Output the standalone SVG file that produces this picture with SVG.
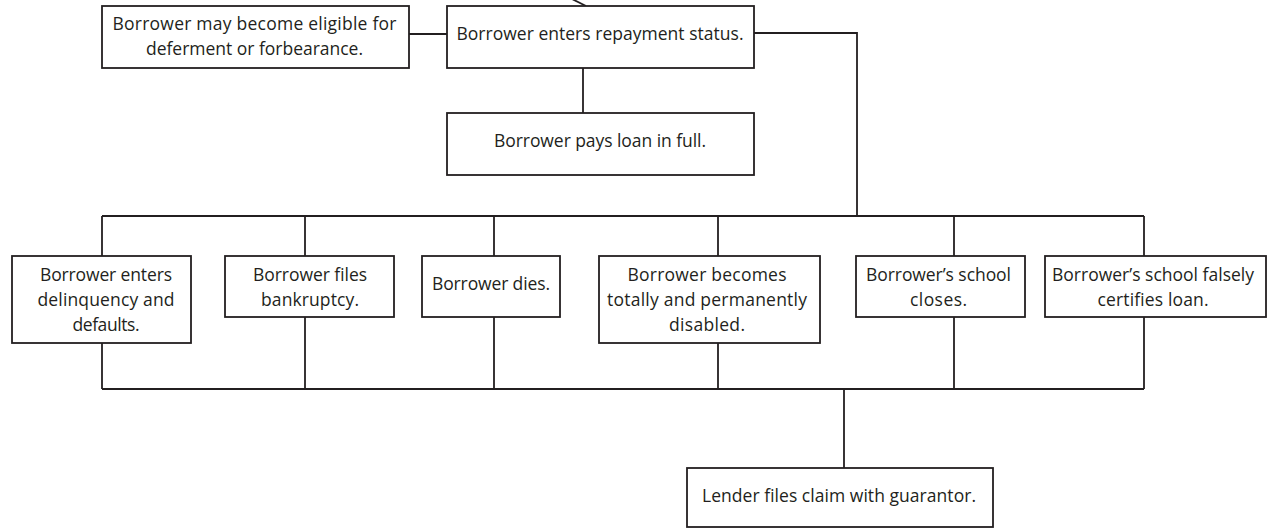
<svg xmlns="http://www.w3.org/2000/svg" width="1275" height="529" viewBox="0 0 1275 529">
<style>
.box{fill:#fff;stroke:#231f20;stroke-width:1.8}
.c{fill:none;stroke:#231f20;stroke-width:1.8}
text{font-family:"Open Sans","Noto Sans","Liberation Sans",sans-serif;font-size:17.5px;fill:#231f20;text-anchor:middle}
</style>
<rect width="1275" height="529" fill="#fff"/>
<g id="connectors">
<line class="c" x1="572" y1="-1" x2="586" y2="6"/>
<line class="c" x1="409" y1="34" x2="447" y2="34"/>
<polyline class="c" points="754,33 857,33 857,216"/>
<line class="c" x1="583" y1="68" x2="583" y2="113"/>
<line class="c" x1="102" y1="216" x2="1144" y2="216"/>
<line class="c" x1="102" y1="216" x2="102" y2="256"/>
<line class="c" x1="305" y1="216" x2="305" y2="256"/>
<line class="c" x1="494" y1="216" x2="494" y2="256"/>
<line class="c" x1="718" y1="216" x2="718" y2="256"/>
<line class="c" x1="954" y1="216" x2="954" y2="256"/>
<line class="c" x1="1144" y1="216" x2="1144" y2="256"/>
<line class="c" x1="102" y1="343" x2="102" y2="389"/>
<line class="c" x1="305" y1="317" x2="305" y2="389"/>
<line class="c" x1="494" y1="317" x2="494" y2="389"/>
<line class="c" x1="718" y1="343" x2="718" y2="389"/>
<line class="c" x1="954" y1="317" x2="954" y2="389"/>
<line class="c" x1="1144" y1="317" x2="1144" y2="389"/>
<line class="c" x1="102" y1="389" x2="1144" y2="389"/>
<line class="c" x1="844" y1="389" x2="844" y2="468"/>
</g>
<g id="deferment">
<rect class="box" x="102" y="6" width="307" height="62"/>
<text x="254.5" y="30" textLength="284" lengthAdjust="spacing">Borrower may become eligible for</text>
<text x="254.5" y="55" textLength="217" lengthAdjust="spacing">deferment or forbearance.</text>
</g>
<g id="repayment">
<rect class="box" x="447" y="6" width="307" height="62"/>
<text x="600" y="40" textLength="287" lengthAdjust="spacing">Borrower enters repayment status.</text>
</g>
<g id="paysfull">
<rect class="box" x="447" y="113" width="307" height="62"/>
<text x="600" y="147" textLength="212" lengthAdjust="spacing">Borrower pays loan in full.</text>
</g>
<g id="default">
<rect class="box" x="12" y="256" width="179" height="87"/>
<text x="106" y="281" textLength="132" lengthAdjust="spacing">Borrower enters</text>
<text x="106" y="306" textLength="137" lengthAdjust="spacing">delinquency and</text>
<text x="106" y="331" textLength="67" lengthAdjust="spacing">defaults.</text>
</g>
<g id="bankruptcy">
<rect class="box" x="225" y="256" width="169" height="61"/>
<text x="310" y="281" textLength="114" lengthAdjust="spacing">Borrower files</text>
<text x="310" y="306" textLength="98" lengthAdjust="spacing">bankruptcy.</text>
</g>
<g id="dies">
<rect class="box" x="422" y="256" width="138" height="61"/>
<text x="491" y="290" textLength="118" lengthAdjust="spacing">Borrower dies.</text>
</g>
<g id="disabled">
<rect class="box" x="599" y="256" width="221" height="87"/>
<text x="707" y="281" textLength="159" lengthAdjust="spacing">Borrower becomes</text>
<text x="707" y="306" textLength="200" lengthAdjust="spacing">totally and permanently</text>
<text x="707" y="331" textLength="76" lengthAdjust="spacing">disabled.</text>
</g>
<g id="schoolcloses">
<rect class="box" x="856" y="256" width="169" height="61"/>
<text x="938.5" y="281" textLength="145" lengthAdjust="spacing">Borrower’s school</text>
<text x="938.5" y="306" textLength="57" lengthAdjust="spacing">closes.</text>
</g>
<g id="falsecert">
<rect class="box" x="1045" y="256" width="221" height="61"/>
<text x="1153" y="281" textLength="202" lengthAdjust="spacing">Borrower’s school falsely</text>
<text x="1153" y="306" textLength="111" lengthAdjust="spacing">certifies loan.</text>
</g>
<g id="lender">
<rect class="box" x="687" y="468" width="306" height="59"/>
<text x="839" y="502" textLength="274" lengthAdjust="spacing">Lender files claim with guarantor.</text>
</g>
</svg>
